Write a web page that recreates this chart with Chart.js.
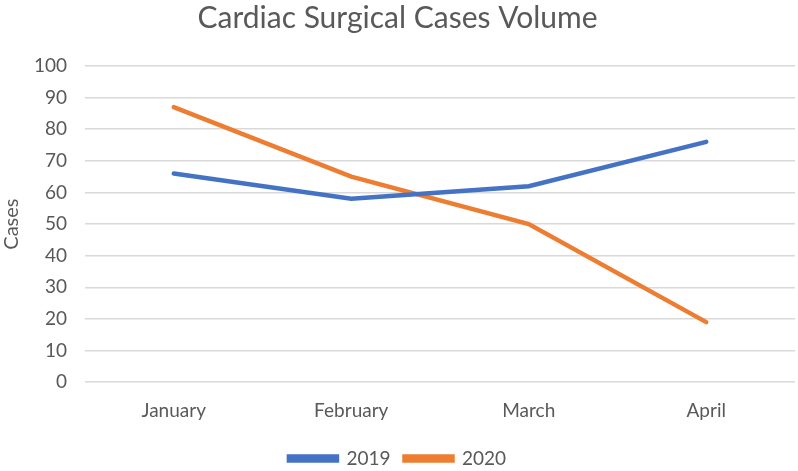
<!DOCTYPE html>
<html>
<head>
<meta charset="utf-8">
<script src="https://cdn.jsdelivr.net/npm/chart.js@4.4.0/dist/chart.umd.min.js"></script>
<style>
  html, body { margin: 0; padding: 0; background: #ffffff; }
  #wrap { width: 798px; height: 471px; position: relative; }
</style>
</head>
<body>
<div id="wrap"><canvas id="chart"></canvas></div>
<script>
const months = ['January', 'February', 'March', 'April'];
const cases2019 = [66, 58, 62, 76];
const cases2020 = [87, 65, 50, 19];
const yTicks = [0, 10, 20, 30, 40, 50, 60, 70, 80, 90, 100];

const textColor = '#595959';
const gridColor = '#d9d9d9';
const fontFamily = 'Lato, "Open Sans", sans-serif';

function series(label, data, color) {
  return {
    label,
    data,
    borderColor: color,
    backgroundColor: color,
    borderWidth: 4.5,
    borderCapStyle: 'round',
    pointRadius: 0,
    pointHoverRadius: 0,
    tension: 0,
    fill: false
  };
}

new Chart(document.getElementById('chart'), {
  type: 'line',
  data: {
    labels: months,
    datasets: [
      series('2019', cases2019, '#4472c4'),
      series('2020', cases2020, '#ed7d31')
    ]
  },
  options: {
    responsive: true,
    maintainAspectRatio: false,
    animation: false,
    layout: { padding: { left: 0, right: 3, top: 0, bottom: -7 } },
    plugins: {
      title: {
        display: true,
        text: 'Cardiac Surgical Cases Volume',
        color: textColor,
        font: { family: fontFamily, size: 30, weight: 'normal' },
        padding: { top: 0, bottom: 30 }
      },
      legend: {
        position: 'bottom',
        labels: {
          color: textColor,
          font: { family: fontFamily, size: 19 },
          boxWidth: 48,
          boxHeight: 4,
          padding: 14
        }
      },
      tooltip: { enabled: false }
    },
    scales: {
      x: {
        offset: true,
        grid: { display: false },
        border: { display: false },
        ticks: { color: textColor, font: { family: fontFamily, size: 19 }, padding: 9 },
        afterFit: (axis) => { axis.height += 4; }
      },
      y: {
        min: 0,
        max: 100,
        afterBuildTicks: (axis) => { axis.ticks = yTicks.map((v) => ({ value: v })); },
        afterFit: (axis) => { axis.width = 85; },
        title: {
          display: true,
          text: 'Cases',
          color: textColor,
          font: { family: fontFamily, size: 20 },
          padding: 0
        },
        grid: { color: gridColor, lineWidth: 1.5, drawTicks: false },
        border: { display: false },
        ticks: { color: textColor, font: { family: fontFamily, size: 19 }, padding: 18 }
      }
    }
  }
});
</script>
</body>
</html>
